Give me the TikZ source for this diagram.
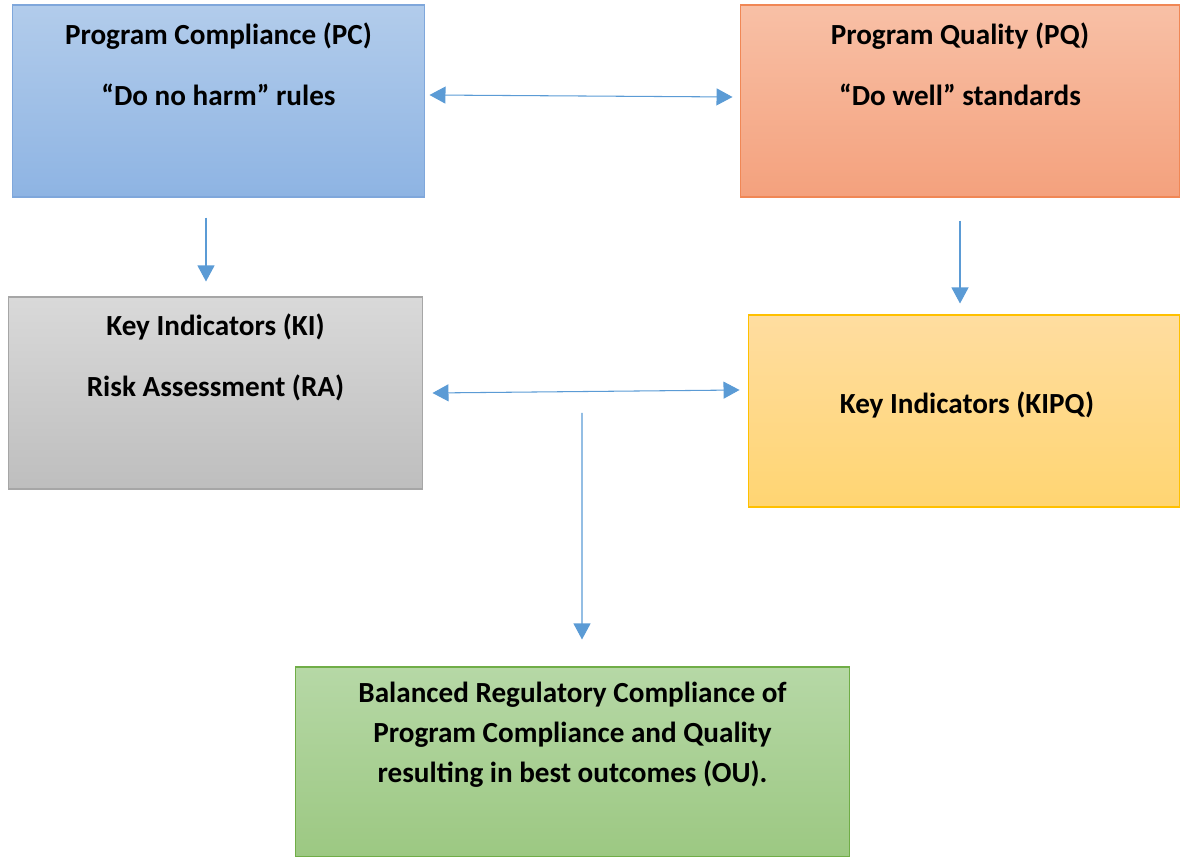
\documentclass[tikz,border=0pt]{standalone}
\usepackage{fontspec}
\setmainfont{Carlito}
\usetikzlibrary{arrows.meta}

\definecolor{linkblue}{HTML}{5B9BD5}
\definecolor{pctop}{RGB}{178,204,235}
\definecolor{pcbot}{RGB}{142,180,227}
\definecolor{pcline}{RGB}{127,167,219}
\definecolor{pqtop}{RGB}{248,192,166}
\definecolor{pqbot}{RGB}{244,161,125}
\definecolor{pqline}{RGB}{240,135,85}
\definecolor{kitop}{RGB}{217,217,217}
\definecolor{kibot}{RGB}{190,190,190}
\definecolor{kiline}{RGB}{166,166,166}
\definecolor{kipqtop}{RGB}{255,221,160}
\definecolor{kipqbot}{RGB}{255,213,114}
\definecolor{kipqline}{RGB}{255,192,0}
\definecolor{outop}{RGB}{182,216,166}
\definecolor{oubot}{RGB}{156,200,130}
\definecolor{ouline}{RGB}{112,173,71}

\tikzset{
  box/.style={rectangle, line width=0.6pt, inner sep=0pt},
  boxtext/.style={align=center, font=\fontsize{16.6}{22.8}\selectfont\bfseries, inner sep=0pt},
  link/.style={draw=linkblue, line width=0.6pt,
    arrows={-Triangle[length=0.32cm,width=0.34cm]}},
  twolink/.style={draw=linkblue, line width=0.6pt,
    arrows={Triangle[length=0.32cm,width=0.34cm]-Triangle[length=0.32cm,width=0.34cm]}}
}

\begin{document}
\begin{tikzpicture}[x=0.02cm,y=-0.02cm]
      \useasboundingbox (0,0) rectangle (1180,857);
      %% Boxes
      \node[box, minimum width=8.26cm, minimum height=3.84cm,
        top color=pctop, bottom color=pcbot, draw=pcline] (pc) at (218.5,101) {};
      \node[box, minimum width=8.8cm, minimum height=3.84cm,
        top color=pqtop, bottom color=pqbot, draw=pqline] (pq) at (960,101) {};
      \node[box, minimum width=8.3cm, minimum height=3.84cm,
        top color=kitop, bottom color=kibot, draw=kiline] (ki) at (215.5,393) {};
      \node[box, minimum width=8.64cm, minimum height=3.84cm,
        top color=kipqtop, bottom color=kipqbot, draw=kipqline] (kipq) at (964,411) {};
      \node[box, minimum width=11.1cm, minimum height=3.8cm,
        top color=outop, bottom color=oubot, draw=ouline] (ou) at (572.5,762) {};
      %% Box texts
      \node[boxtext] (pctext) at (218.5,64.5) {Program Compliance (PC)\\[11.8pt]\textquotedblleft Do no harm\textquotedblright{} rules};
      \node[boxtext] (pqtext) at (960,64.5) {Program Quality (PQ)\\[11.8pt]\textquotedblleft Do well\textquotedblright{} standards};
      \node[boxtext] (kitext) at (215.5,357) {Key Indicators (KI)\\[11.8pt]Risk Assessment (RA)};
      \node[boxtext] (kipqtext) at (967,405) {Key Indicators (KIPQ)};
      \node[boxtext] (outext) at (572.5,735) {Balanced Regulatory Compliance of\\Program Compliance and Quality\\resulting in best outcomes (OU).};
      %% Horizontal arrows
      \draw[twolink] ([shift={(4,-6)}]pc.east) -- ([shift={(-7,-4)}]pq.west);
      \draw[twolink] ([shift={(9,0)}]ki.east) -- ([shift={(-8,-21)}]kipq.west);
      %% Vertical arrows
      \draw[link] ([shift={(-12.5,20)}]pc.south) -- ([shift={(-9.5,-15)}]ki.north);
      \draw[link] ([shift={(0,23)}]pq.south) -- ([shift={(-4,-11)}]kipq.north);
      \coordinate (split) at (582,413);
      \draw[link] (split) -- ([shift={(9.5,-27)}]ou.north);
    \end{tikzpicture}
\end{document}
